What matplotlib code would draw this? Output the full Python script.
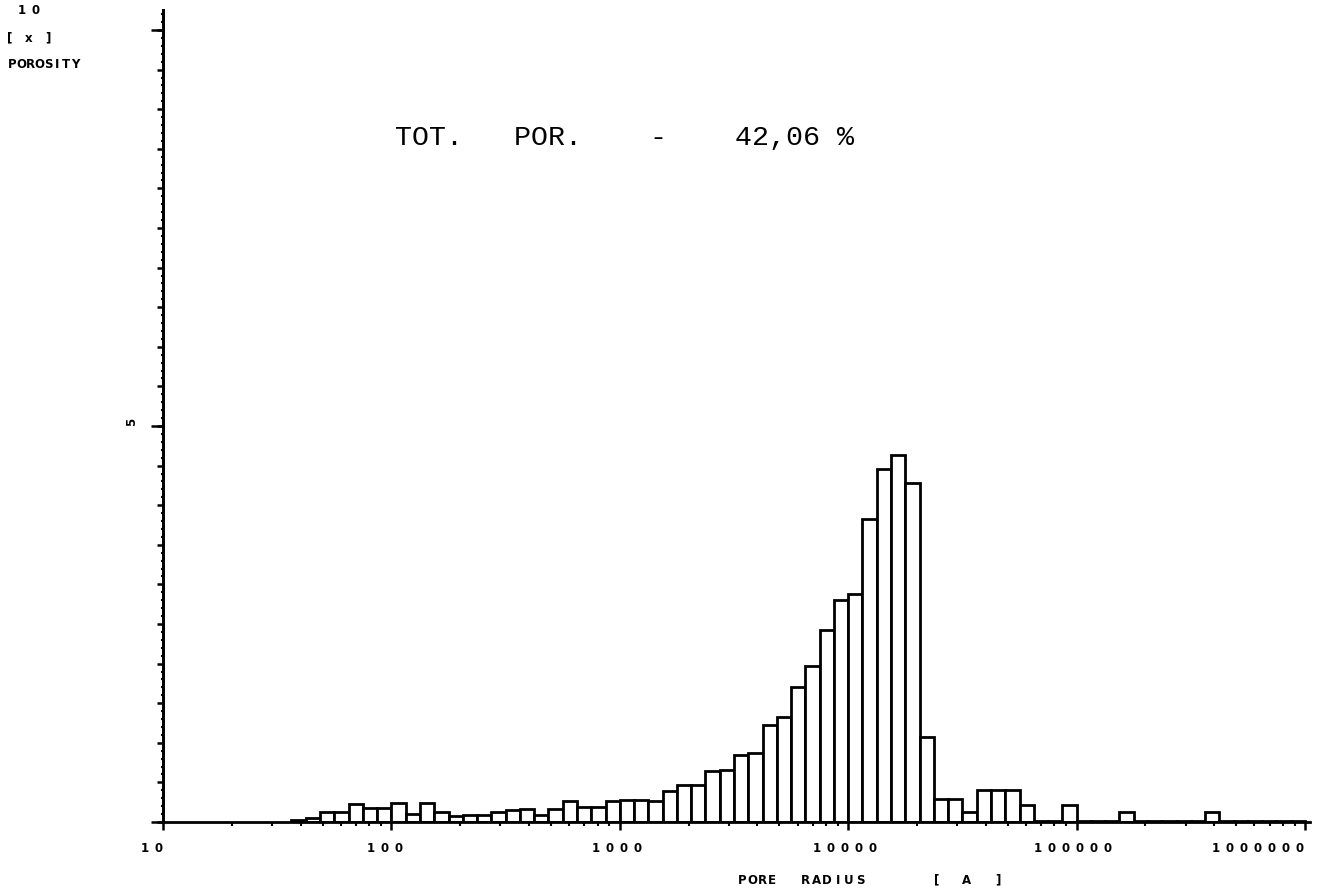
import numpy as np
import matplotlib
matplotlib.use("Agg")
import matplotlib.pyplot as plt
from matplotlib.ticker import FixedLocator, MultipleLocator, NullFormatter, LogLocator

W, H = 1327, 890

# ---- data -------------------------------------------------------------
bins_per_decade = 16          # log-spaced pore-radius classes
first_bin = 9                 # index of first class (class 0 starts at 10 A)
porosity = [0.03, 0.05, 0.13, 0.13, 0.23, 0.18, 0.18,         # bins 9-15
            0.24, 0.10, 0.24, 0.12, 0.07, 0.09, 0.09, 0.12,   # 16-23
            0.15, 0.16, 0.09, 0.17, 0.26, 0.19, 0.19, 0.27,   # 24-31
            0.28, 0.28, 0.27, 0.39, 0.47, 0.47, 0.65, 0.66,   # 32-39
            0.85, 0.87, 1.23, 1.33, 1.70, 1.97, 2.43, 2.80,   # 40-47
            2.88, 3.82, 4.46, 4.64, 4.28, 1.07, 0.29, 0.29,   # 48-55
            0.12, 0.41, 0.41, 0.41, 0.22, 0.01, 0.01, 0.22,   # 56-63
            0.01, 0.01, 0.01, 0.12, 0.01, 0.01, 0.01, 0.01,   # 64-71
            0.01, 0.12, 0.01, 0.01, 0.01, 0.01, 0.01, 0.01]   # 72-79

x_tick_values = [10, 100, 1000, 10000, 100000, 1000000]
x_tick_labels = ["10", "100", "1000", "10000", "100000", "1000000"]
y_tick_values = [0, 5, 10]
y_tick_labels = ["", "5", "10"]
total_porosity = "42,06"

# ---- geometry helpers ------------------------------------------------
def fx(px):
    return px / W

def fy(py):
    return 1 - py / H

fig = plt.figure(figsize=(W / 100, H / 100), dpi=100)
fig.patch.set_facecolor("white")

ax_left, ax_right = 163, 1310
ax_bottom, ax_top = 822, 10
ax = fig.add_axes([fx(ax_left), fy(ax_bottom), (ax_right - ax_left) / W, (ax_bottom - ax_top) / H])

ax.set_xscale("log")
ax.set_xlim(10, 10 ** (1 + (ax_right - ax_left) / 228.4))
ax.set_ylim(0, 10 * (ax_bottom - ax_top) / (ax_bottom - 30))

# bars
idx = np.arange(first_bin, first_bin + len(porosity))
left = 10.0 ** (1 + idx / bins_per_decade)
right = 10.0 ** (1 + (idx + 1) / bins_per_decade)
ax.bar(left, porosity, width=right - left, align="edge",
       facecolor="white", edgecolor="black", linewidth=2.0, zorder=2)

# spines
for s in ["top", "right"]:
    ax.spines[s].set_visible(False)
for s in ["left", "bottom"]:
    ax.spines[s].set_linewidth(2.0)
    ax.spines[s].set_zorder(3)

# x ticks
ax.xaxis.set_major_locator(FixedLocator(x_tick_values))
ax.xaxis.set_minor_locator(LogLocator(base=10, subs=np.arange(2, 10), numticks=20))
ax.xaxis.set_major_formatter(NullFormatter())
ax.xaxis.set_minor_formatter(NullFormatter())
ax.tick_params(axis="x", which="major", direction="out", length=6, width=1.8)
ax.tick_params(axis="x", which="minor", direction="out", length=3, width=1.5)

# y ticks: 0.5 medium, 0.1 small, 0/5/10 long
ax.yaxis.set_major_locator(MultipleLocator(0.5))
ax.yaxis.set_minor_locator(MultipleLocator(0.1))
ax.yaxis.set_major_formatter(NullFormatter())
ax.tick_params(axis="y", which="major", direction="out", length=4.5, width=1.8)
ax.tick_params(axis="y", which="minor", direction="out", length=1.8, width=1.5)
sec = ax.secondary_yaxis("left")
sec.set_yticks(y_tick_values)
sec.set_yticklabels([])
sec.tick_params(axis="y", direction="out", length=9, width=1.8)
sec.spines["left"].set_linewidth(2.0)

# plotter-style lettering: one glyph at a time with a fixed pitch (pixels)
plot_font = dict(family="DejaVu Sans", fontweight="bold", fontsize=8.5, color="black")

def spaced(text, x_px, y_px, pitch, align="left", rotation=0):
    n = len(text)
    if align == "center":
        x0 = x_px - pitch * (n - 1) / 2
    elif align == "right":
        x0 = x_px - pitch * (n - 1)
    else:
        x0 = x_px
    for i, ch in enumerate(text):
        if ch == " ":
            continue
        fig.text(fx(x0 + i * pitch), fy(y_px), ch, ha="center", va="center",
                 rotation=rotation, **plot_font)

x_label_px = {10: 152, 100: 385, 1000: 617, 10000: 845, 100000: 1073, 1000000: 1258}
for v, lab in zip(x_tick_values, x_tick_labels):
    spaced(lab, x_label_px[v], 849, 14.0, align="center")

spaced(y_tick_labels[1], 132, 422, 14.0, rotation=90)
spaced(y_tick_labels[2], 29, 10, 14.0, align="center")
spaced("[ x ]", 29, 38, 9.5, align="center")
spaced("POROSITY", 12, 65, 9.0)

spaced("PORE", 742, 880, 10.0)
spaced("RADIUS", 805, 880, 11.0)
spaced("[", 937, 880, 10)
spaced("A", 967, 880, 10)
spaced("]", 998, 880, 10)

# total porosity annotation
fig.text(fx(395), fy(145), "TOT.   POR.    -    " + total_porosity + " %",
         ha="left", va="baseline", family="Liberation Mono", fontsize=20.4, color="black")

fig.savefig("out.png", dpi=100, facecolor="white")
